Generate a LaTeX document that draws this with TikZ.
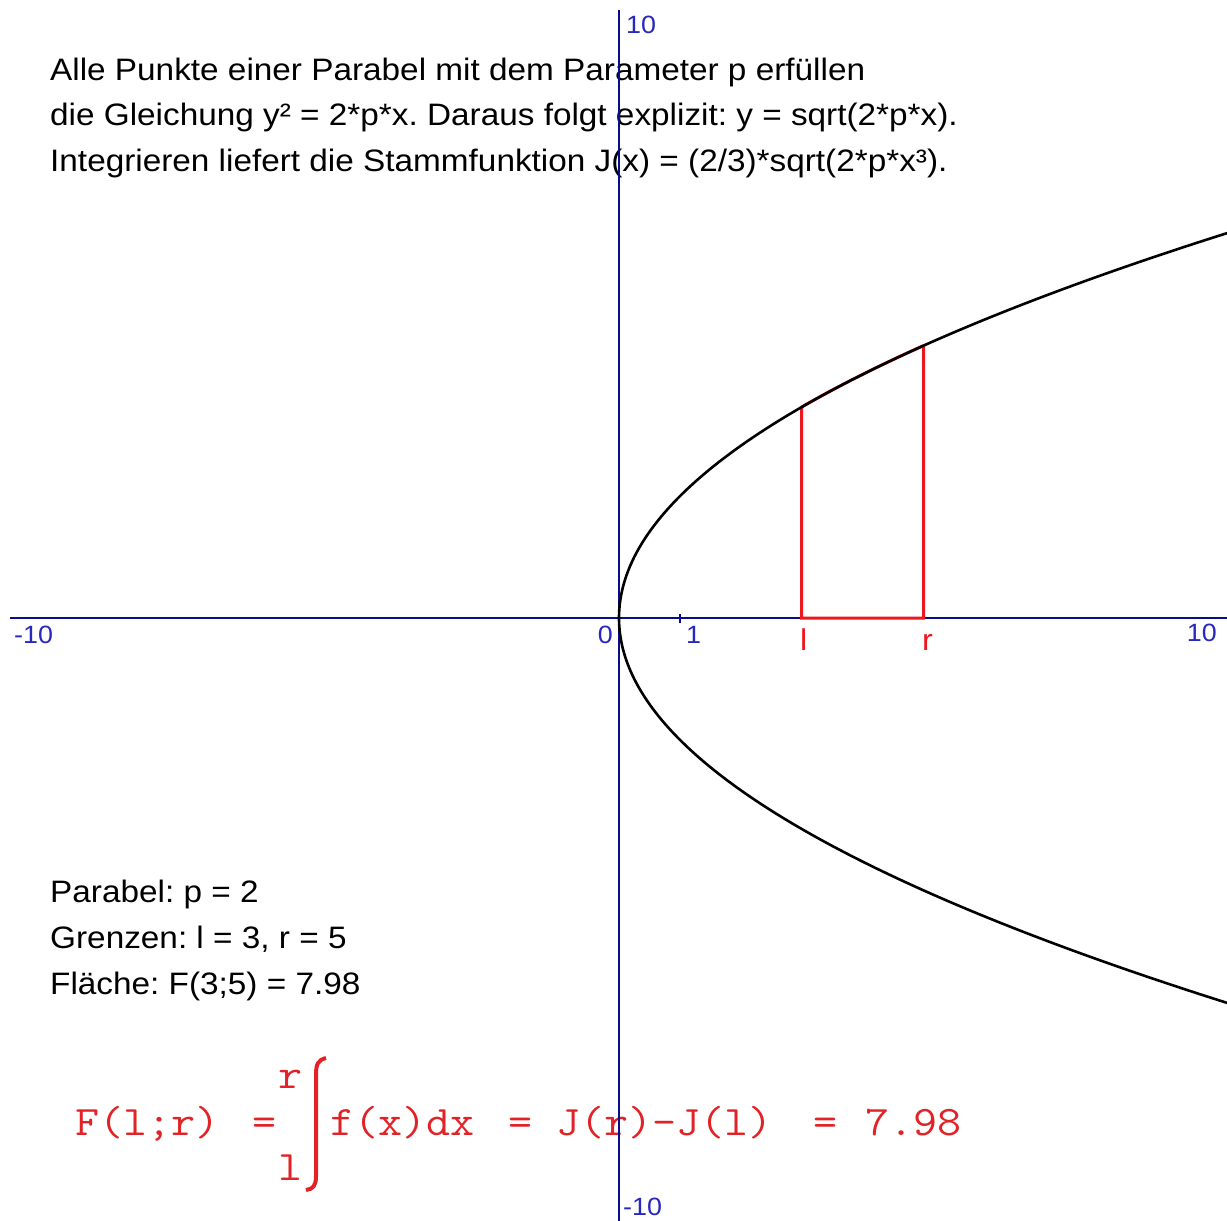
\documentclass[tikz,border=0pt]{standalone}
\usepackage{fontspec}
\setmainfont[FakeStretch=1.075]{Liberation Sans}
\frenchspacing
\definecolor{axisblue}{RGB}{10,10,140}
\definecolor{lblblue}{RGB}{40,40,190}
\definecolor{redline}{RGB}{235,25,30}
\definecolor{formred}{RGB}{225,35,40}
\newcommand{\formtxt}[1]{\scalebox{1.11}[1]{#1}}
\begin{document}
\begin{tikzpicture}[x=1pt,y=-1pt,
  txt/.style={anchor=base west,inner sep=0pt,font=\fontsize{31}{31}\selectfont},
  lbl/.style={inner sep=0pt,text=lblblue,font=\fontsize{25}{25}\selectfont},
  redlbl/.style={anchor=base west,inner sep=0pt,text=redline,font=\fontsize{30}{30}\selectfont},
  form/.style={inner sep=0pt,text=formred,font=\ttfamily\fontsize{42}{42}\selectfont},
  axisline/.style={draw=axisblue,line width=1.6pt},
  curveline/.style={draw=black,line width=2.6pt},
  redbox/.style={draw=redline,line width=3pt}]
\useasboundingbox[fill=white] (0,0) rectangle (1227,1221);

% top explanation
\node[txt] (t1) at (50,80) {Alle Punkte einer Parabel mit dem Parameter p erfüllen};
\node[txt] (t2) at (50,125.5) {die Gleichung y² = 2*p*x. Daraus folgt explizit: y = sqrt(2*p*x).};
\node[txt] (t3) at (50,171) {Integrieren liefert die Stammfunktion J(x) = (2/3)*sqrt(2*p*x³).};

% bottom info
\node[txt] (b1) at (50,902) {Parabel: p = 2};
\node[txt] (b2) at (50,948) {Grenzen: l = 3, r = 5};
\node[txt] (b3) at (50,994) {Fläche: F(3;5) = 7.98};

% formula
\node[form,anchor=base west] (flr) at (75,1135) {\formtxt{F(l;r)}};
\node[form,anchor=base] (eqa) at (265,1135) {\formtxt{=}};
\node[form,anchor=base] (up) at (291,1088) {\formtxt{r}};
\node[form,anchor=base] (lo) at (291,1180) {\formtxt{l}};
\draw[formred,line width=4pt] (326,1058) .. controls (318,1060) and (316,1064) .. (316,1075)
  -- (316,1176) .. controls (316,1186) and (313,1189) .. (306,1190);
\node[form,anchor=base west] (fx) at (330,1135) {\formtxt{f(x)dx}};
\node[form,anchor=base] (eqb) at (520,1135) {\formtxt{=}};
\node[form,anchor=base west] (jj) at (556,1135) {\formtxt{J(r)-J(l)}};
\node[form,anchor=base] (eqc) at (825,1135) {\formtxt{=}};
\node[form,anchor=base west] (val) at (865,1135) {\formtxt{7.98}};

% axes
\coordinate (O) at (619,618);
\coordinate (xl) at (10,618);
\coordinate (xr) at (1227,618);
\coordinate (yt) at (619,10);
\coordinate (yb) at (619,1221);
\draw[axisline] (xl) -- (xr);
\draw[axisline] (yt) -- (yb);
\coordinate (tk) at (680,618);
\draw[draw=axisblue,line width=1.3pt] ([yshift=-5]tk) -- ([yshift=4]tk);

% axis labels
\node[lbl,anchor=base west] (ytop) at (626,33) {10};
\node[lbl,anchor=base west] (xleft) at (14,643) {-10};
\node[lbl,anchor=base east] (zero) at (613,643) {0};
\node[lbl,anchor=base west] (one) at (686,643) {1};
\node[lbl,anchor=base east] (xright) at (1217,641) {10};
\node[lbl,anchor=base west] (ybot) at (623,1215) {-10};

% red area outline
\coordinate (L0) at (801.7,618);
\coordinate (R0) at (923.5,618);
\coordinate (L1) at ({619+3*60.9},{618-60.9*sqrt(12)});
\coordinate (R1) at ({619+5*60.9},{618-60.9*sqrt(20)});
\draw[redbox] (L1) -- (L0) -- (R0) -- (R1);
\draw[redbox] plot[domain=3.4641:4.4721,samples=40,variable=\t] ({619+60.9*\t*\t/4},{618-60.9*\t});
\node[redlbl] (llbl) at (800,650) {l};
\node[redlbl] (rlbl) at (922,650) {r};

% parabola
\begin{scope}
\clip (0,0) rectangle (1227,1221);
\draw[curveline] plot[domain=-6.45:6.45,samples=240,variable=\t] ({619+60.9*\t*\t/4},{618-60.9*\t});
\end{scope}
\end{tikzpicture}
\end{document}
